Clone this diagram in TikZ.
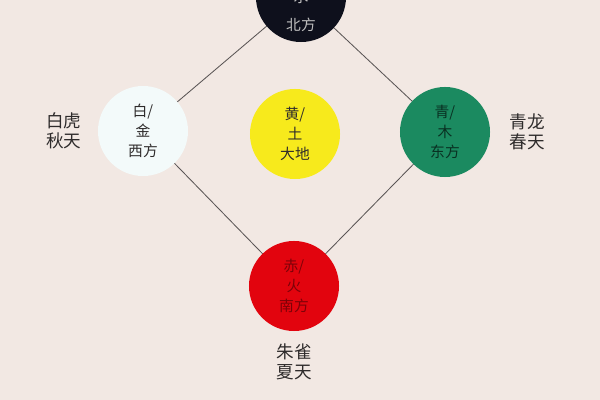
\documentclass[tikz,border=0pt]{standalone}
\usepackage{fontspec}
\newfontfamily\cjk{Noto Sans CJK SC}
\usepackage{tikz}
\usetikzlibrary{positioning}
\usetikzlibrary{backgrounds}
\definecolor{paper}{HTML}{F2E8E3}
\definecolor{linegray}{HTML}{5A5555}
\definecolor{labelgray}{HTML}{2E2B2B}
\definecolor{shuiblack}{HTML}{0E101C}
\definecolor{jinwhite}{HTML}{F3FAFA}
\definecolor{tuyellow}{HTML}{F7EA1C}
\definecolor{mugreen}{HTML}{1B8A60}
\definecolor{huored}{HTML}{E2040E}
\tikzset{elem/.style={shape=circle, minimum size=2.25cm, inner sep=0pt, align=center,
    font=\cjk\fontsize{10.5}{14.2}\selectfont},
  link/.style={draw=linegray, line width=0.6pt},
  animal/.style={align=center, inner sep=0pt, text=labelgray,
    font=\cjk\fontsize{12.5}{14.2}\selectfont}}

\begin{document}
\begin{tikzpicture}[x=0.025cm, y=-0.025cm]
    \useasboundingbox (0,0) rectangle (600,400);

    % five elements
    \node[elem, fill=shuiblack, text=black!25, font=\cjk\fontsize{10.5}{19.8}\selectfont]
      (shui) at (301,-3) {黑/\\水\\北方};
    \node[elem, fill=jinwhite, text=labelgray] (jin) at (143,131) {白/\\金\\西方};
    \node[elem, fill=tuyellow, text=labelgray] (tu) at (295,134) {黄/\\土\\大地};
    \node[elem, fill=mugreen, text=mugreen!35!black] (mu) at (445,132) {青/\\木\\东方};
    \node[elem, fill=huored, text=huored!55!black] (huo) at (294,286) {赤/\\火\\南方};

    \begin{pgfonlayer}{background}
      \fill[paper] (0,0) rectangle (600,400);
      \draw[link]
      (shui.center) edge (jin.center)
      (shui.center) edge (mu.center)
      (jin.center) edge (huo.center)
      (mu.center) edge (huo.center);
    \end{pgfonlayer}

    % animals and seasons
    \node[animal, left=0.4cm of jin] (baihu) {白虎\\秋天};
    \node[animal, right=0.48cm of mu] (qinglong) {青龙\\春天};
    \node[animal, below=0.3cm of huo] (zhuque) {朱雀\\夏天};
\end{tikzpicture}
\end{document}
